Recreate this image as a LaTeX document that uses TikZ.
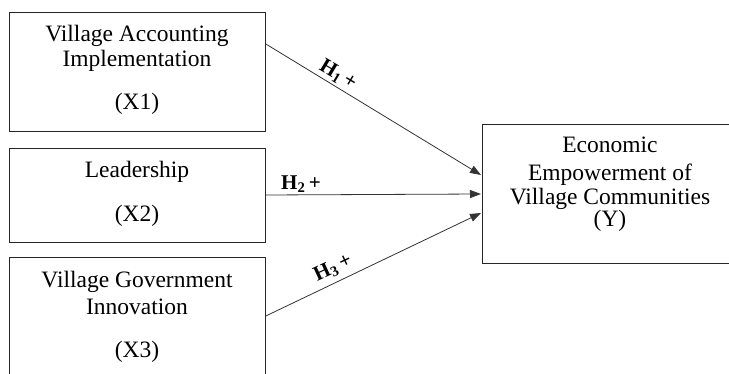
\documentclass[tikz,border=0pt]{standalone}
\usepackage{fontspec}
\setmainfont{Liberation Serif}
\usetikzlibrary{arrows.meta,calc}
\begin{document}
\begin{tikzpicture}[x=1pt,y=-1pt,
  box/.style={draw=black!85,line width=0.8pt,rectangle,inner sep=0pt,anchor=north west},
  txt/.style={anchor=base,inner sep=0pt,font=\fontsize{23.5}{26}\selectfont},
  hyp/.style={inner sep=0pt,font=\fontsize{21}{23}\selectfont\bfseries},
  arr/.style={draw=black!80,line width=0.8pt,-{Triangle[length=11pt,width=8pt]}}]
\useasboundingbox (0,0) rectangle (729,374);
% construct boxes
\node[box,minimum width=256pt,minimum height=119pt] (x1) at (9,12) {};
\node[box,minimum width=256pt,minimum height=94pt] (x2) at (9,148) {};
\node[box,minimum width=256pt,minimum height=130pt] (x3) at (9,257) {};
\node[box,minimum width=260pt,minimum height=139pt] (yb) at (482,124) {};
% box texts
\node[txt] (x1a) at (137,42) {Village Accounting};
\node[txt] (x1b) at (137,67) {Implementation};
\node[txt] (x1c) at (137,110) {(X1)};
\node[txt] (x2a) at (137,178) {Leadership};
\node[txt] (x2c) at (137,222) {(X2)};
\node[txt] (x3a) at (137,288) {Village Government};
\node[txt] (x3b) at (137,315) {Innovation};
\node[txt] (x3c) at (137,357) {(X3)};
\node[txt] (ya) at (610,153) {Economic};
\node[txt] (yb2) at (610,181) {Empowerment of};
\node[txt] (yc) at (610,205) {Village Communities};
\node[txt] (yd) at (610,227) {(Y)};
% hypothesised paths
\draw[arr] ($(x1.north east)+(0,32)$) -- ($(yb.north west)+(-1,51)$);
\draw[arr] ($(x2.north east)+(0,47)$) -- ($(yb.north west)+(-1,70)$);
\draw[arr] ($(x3.north east)+(0,59)$) -- ($(yb.north west)+(-1,89)$);
\node[hyp,rotate=-31] (h1) at (338,75) {H\textsubscript{1}\,+};
\node[hyp] (h2) at (301,184) {H\textsubscript{2}\,+};
\node[hyp,rotate=25] (h3) at (333,268) {H\textsubscript{3}\,+};
\end{tikzpicture}
\end{document}
